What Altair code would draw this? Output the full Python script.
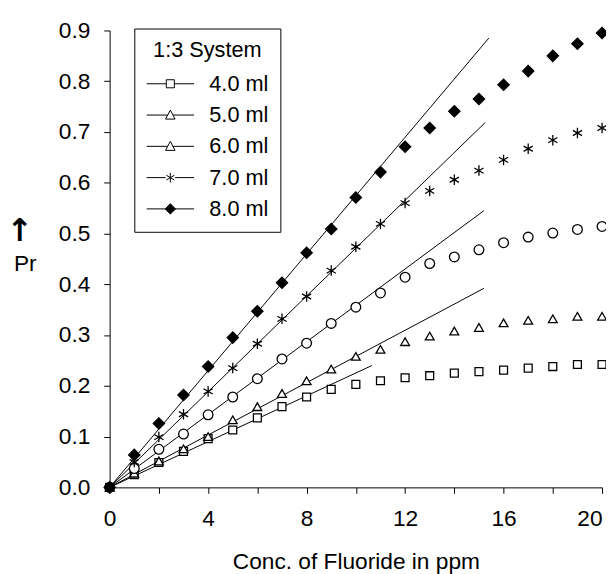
import altair as alt
import pandas as pd

conc = list(range(0, 21))
series_names = ["4.0 ml", "5.0 ml", "6.0 ml", "7.0 ml", "8.0 ml"]

pr_4ml = [0, 0.025, 0.049, 0.071, 0.096, 0.113, 0.137, 0.159, 0.178, 0.193, 0.203,
          0.210, 0.216, 0.220, 0.225, 0.228, 0.231, 0.235, 0.238, 0.242, 0.242]
pr_5ml = [0, 0.028, 0.052, 0.076, 0.100, 0.133, 0.159, 0.185, 0.210, 0.233, 0.258,
          0.272, 0.287, 0.298, 0.308, 0.315, 0.324, 0.329, 0.332, 0.337, 0.337]
pr_6ml = [0, 0.037, 0.075, 0.105, 0.143, 0.178, 0.214, 0.253, 0.284, 0.323, 0.355,
          0.383, 0.414, 0.441, 0.454, 0.468, 0.482, 0.493, 0.501, 0.508, 0.514]
pr_7ml = [0, 0.050, 0.099, 0.144, 0.189, 0.235, 0.283, 0.332, 0.376, 0.427, 0.474,
          0.519, 0.560, 0.584, 0.606, 0.624, 0.645, 0.667, 0.684, 0.698, 0.708]
pr_8ml = [0, 0.064, 0.126, 0.182, 0.238, 0.295, 0.347, 0.403, 0.462, 0.509, 0.571,
          0.621, 0.671, 0.708, 0.741, 0.765, 0.793, 0.820, 0.850, 0.874, 0.895]

# straight reference lines from origin: end points (conc, Pr)
fit_end_conc = [10.65, 15.2, 15.2, 15.26, 15.4]
fit_end_pr = [0.240, 0.392, 0.545, 0.719, 0.885]

all_pr = [pr_4ml, pr_5ml, pr_6ml, pr_7ml, pr_8ml]
pts = pd.DataFrame([
    {"series": s, "conc": c, "pr": v}
    for s, vals in zip(series_names, all_pr)
    for c, v in zip(conc, vals)
])
fit = pd.DataFrame(
    [{"series": s, "conc": 0.0, "pr": 0.0} for s in series_names]
    + [{"series": s, "conc": c, "pr": p} for s, c, p in zip(series_names, fit_end_conc, fit_end_pr)]
)
leg = pd.DataFrame([{"series": s, "conc": 0.0, "pr": 0.0} for s in series_names])

FONT = "Liberation Sans"
asterisk = "M0,-1V1M-0.87,-0.5L0.87,0.5M-0.87,0.5L0.87,-0.5"
plot_shapes = ["square", "triangle-up", "circle", asterisk, "diamond"]
plot_sizes = [64, 130, 64, 196, 169]
plot_stroke_w = [1.3, 1.3, 1.3, 1.9, 1.0]
fills = ["white", "white", "white", "black", "black"]
strokes = ["black"] * 5

legend_shapes = [
    "M-1,0H-0.17M0.17,0H1M-0.17,-0.17H0.17V0.17H-0.17Z",
    "M-1,0H-0.11M0.11,0H1M0,-0.21L0.2,0.17H-0.2Z",
    "M-1,0H-0.11M0.11,0H1M0,-0.21L0.2,0.17H-0.2Z",
    "M-1,0H-0.2M0.2,0H1M0,-0.2V0.2M-0.17,-0.1L0.17,0.1M-0.17,0.1L0.17,-0.1",
    "M-1,0H-0.2M0.2,0H1M0,-0.22L0.22,0L0,0.22L-0.22,0Z",
]

xs = alt.Scale(domain=[0, 20], nice=False)
ys = alt.Scale(domain=[0, 0.9], nice=False)

x_axis = alt.Axis(
    values=list(range(0, 21, 2)),
    labelExpr="datum.value % 4 === 0 ? datum.label : ''",
    labelAlign={"condition": {"test": "datum.value === 20", "value": "right"}, "value": "center"},
    title="Conc. of Fluoride in ppm",
    titleY=82, titleBaseline="alphabetic",
    labelPadding=15, tickSize=6, grid=False,
)
y_axis = alt.Axis(
    values=[round(v * 0.1, 1) for v in range(0, 10)],
    format=".1f",
    title="Pr",
    titleAngle=0, titleAlign="center", titleBaseline="alphabetic",
    titleX=-86, titleY=243,
    labelPadding=14, tickSize=6, grid=False,
)

lines = alt.Chart(fit).mark_line(color="black", strokeWidth=1).encode(
    x=alt.X("conc:Q", scale=xs, axis=x_axis),
    y=alt.Y("pr:Q", scale=ys, axis=y_axis),
    detail="series:N",
)

points = alt.Chart(pts).mark_point(filled=True, stroke="black", opacity=1).encode(
    x=alt.X("conc:Q", scale=xs),
    y=alt.Y("pr:Q", scale=ys),
    shape=alt.Shape("series:N", scale=alt.Scale(domain=series_names, range=plot_shapes), legend=None),
    fill=alt.Fill("series:N", scale=alt.Scale(domain=series_names, range=fills), legend=None),
    size=alt.Size("series:N", scale=alt.Scale(domain=series_names, range=plot_sizes), legend=None),
    strokeWidth=alt.StrokeWidth("series:N", scale=alt.Scale(domain=series_names, range=plot_stroke_w), legend=None),
)

legend = alt.Legend(
    title="1:3 System", orient="none", legendX=25, legendY=-2,
    strokeColor="black", fillColor="white", padding=12,
    titleAnchor="middle", titleFontWeight="normal", titleFontSize=22, titleFont=FONT,
    titleColor="black", titlePadding=11,
    labelFontSize=22, labelFont=FONT, labelColor="black", labelOffset=15,
    symbolSize=2304, symbolStrokeColor="black", symbolStrokeWidth=1, symbolOpacity=1,
    clipHeight=22, rowPadding=9.7,
)
legend_layer = alt.Chart(leg).mark_point(filled=True, opacity=0).encode(
    x=alt.X("conc:Q", scale=xs),
    y=alt.Y("pr:Q", scale=ys),
    shape=alt.Shape("series:N", scale=alt.Scale(domain=series_names, range=legend_shapes), legend=legend),
    fill=alt.Fill("series:N", scale=alt.Scale(domain=series_names, range=fills), legend=legend),
    stroke=alt.Stroke("series:N", scale=alt.Scale(domain=series_names, range=strokes), legend=legend),
)

chart = alt.layer(lines, points, legend_layer).resolve_scale(
    shape="independent", fill="independent", stroke="independent"
).properties(
    width=499, height=463,
    title=alt.TitleParams(
        "↑", anchor="start", orient="top", frame="group",
        font="DejaVu Sans", fontSize=32, fontWeight="bold", color="black",
        dx=-91, dy=273, offset=10, align="center", baseline="bottom",
    ),
    autosize=alt.AutoSizeParams(type="none"),
    padding={"left": 103, "top": 19, "right": 4, "bottom": 84},
).configure_view(stroke=None).configure_axis(
    labelFont=FONT, titleFont=FONT, labelFontSize=23, titleFontSize=23,
    labelColor="black", titleColor="black", domainColor="black", tickColor="black",
    titleFontWeight="normal",
)

chart.save("out.html", embed_options={"renderer": "svg", "actions": False})
